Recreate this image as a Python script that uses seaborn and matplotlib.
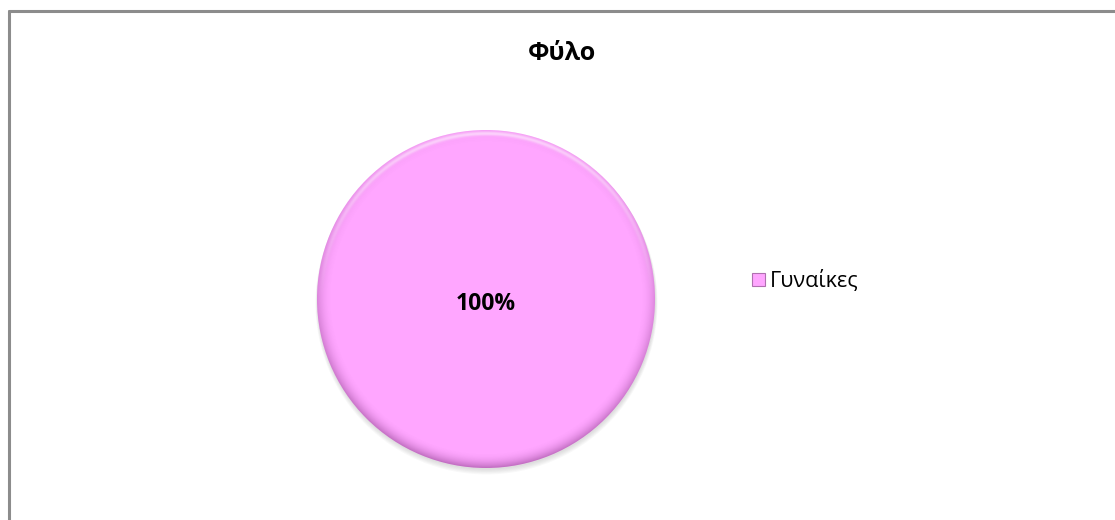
import matplotlib
matplotlib.use("Agg")
import matplotlib.pyplot as plt
from matplotlib.lines import Line2D
from matplotlib.patches import Patch, Circle
import numpy as np
import seaborn as sns

# Survey data: gender distribution
categories = ["Γυναίκες"]
values = [100]
title = "Φύλο"

sns.set_theme(style="white")
plt.rcParams["font.family"] = ["Open Sans", "DejaVu Sans"]
plt.rcParams["text.color"] = "black"

pink = "#FFA6FF"

fig = plt.figure(figsize=(11.15, 5.2), dpi=100)
fig.patch.set_facecolor("white")

# Pie axes: centre at (486, 299) px, radius 169 px, with a margin for the shadow
cx, cy, r = 486, 299, 169
W, H = 1115, 520
pad = 1.08
ax = fig.add_axes([(cx - r * pad) / W, (H - cy - r * pad) / H,
                   2 * r * pad / W, 2 * r * pad / H])

# Soft drop shadow underneath
for k in range(5):
    ax.add_patch(Circle((0.003, -0.010 - 0.004 * k), 1.0 + 0.003 * k,
                        facecolor="#555555", alpha=0.04, linewidth=0, zorder=0))

wedges, texts, autotexts = ax.pie(
    values,
    colors=[pink],
    startangle=90,
    counterclock=False,
    radius=1.0,
    autopct=lambda p: f"{p:.0f}%",
    pctdistance=0.0,
    wedgeprops=dict(linewidth=0),
    textprops=dict(fontsize=16.5, fontweight="bold", color="black"),
)
autotexts[0].set_zorder(5)
autotexts[0].set_y(-0.03)

# Bevel shading near the rim: darker along the lower edge, light along the top
g = np.linspace(-1, 1, 600)
X, Y = np.meshgrid(g, g)
R = np.hypot(X, Y)
edge = np.clip((R - 0.91) / 0.09, 0, 1) ** 2
dark = np.clip(0.5 - 0.5 * Y, 0, 1)
rgba = np.zeros(X.shape + (4,))
rgba[..., 0] = 0.45
rgba[..., 1] = 0.15
rgba[..., 2] = 0.45
rgba[..., 3] = edge * (0.08 + 0.36 * dark)
shade = ax.imshow(rgba, extent=(-1, 1, -1, 1), origin="lower",
                  interpolation="bilinear", zorder=3)
shade.set_clip_path(wedges[0])

hi = np.zeros(X.shape + (4,))
hi[..., :3] = 1.0
band = np.exp(-((R - 0.975) / 0.012) ** 2)
hi[..., 3] = band * np.clip(Y, 0, 1) * 0.55
light = ax.imshow(hi, extent=(-1, 1, -1, 1), origin="lower",
                  interpolation="bilinear", zorder=4)
light.set_clip_path(wedges[0])

ax.set_xlim(-pad, pad)
ax.set_ylim(-pad, pad)
ax.set_aspect("equal")
ax.axis("off")

# Title
fig.text(562 / W, 1 - 53 / H, title, ha="center", va="center",
         fontsize=18, fontweight="bold", color="black")

# Legend
handles = [Patch(facecolor=pink, edgecolor="#b070b0", linewidth=0.8)
           for _ in categories]
leg = fig.legend(handles, categories, loc="center left",
                 bbox_to_anchor=(752 / W, 1 - 281 / H), frameon=False,
                 fontsize=15.5, handlelength=0.6, handleheight=0.6,
                 handletextpad=0.25, borderaxespad=0, borderpad=0)
for t in leg.get_texts():
    t.set_color("black")

# Chart-area border (top and left edges)
border = "#8c8c8c"
fig.add_artist(Line2D([9 / W, 1], [1 - 11 / H, 1 - 11 / H],
                      transform=fig.transFigure, color=border, linewidth=2.2))
fig.add_artist(Line2D([9 / W, 9 / W], [0, 1 - 11 / H],
                      transform=fig.transFigure, color=border, linewidth=2.2))

fig.savefig("out.png", dpi=100, facecolor="white")
